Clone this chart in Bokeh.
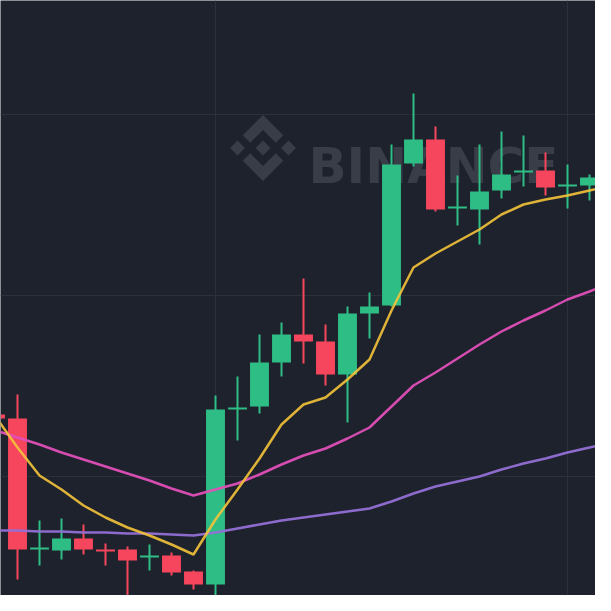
from bokeh.plotting import figure
from bokeh.models import Range1d, FixedTicker, Grid, Label, PolyAnnotation, ColumnDataSource
from bokeh.embed import file_html
from bokeh.resources import INLINE

# ---- data (candle index, OHLC prices, moving averages) ----
idx = list(range(29))
opens  = [103.10, 102.90, 96.35, 96.30, 96.90, 96.35, 96.35, 95.95, 96.05, 95.25,
          94.60, 103.35, 103.50, 105.70, 107.10, 106.75, 105.10, 108.15, 108.55, 115.65,
          116.85, 113.40, 113.35, 114.30, 115.20, 115.30, 114.50, 114.55, 115.00]
highs  = [104.10, 104.10, 97.80, 97.90, 97.60, 96.65, 96.50, 96.60, 96.20, 95.30,
          104.05, 105.00, 107.10, 107.70, 109.90, 107.60, 108.50, 109.20, 116.60, 119.15,
          117.50, 115.05, 116.60, 117.25, 117.05, 116.20, 115.60, 115.10, 115.80]
lows   = [101.85, 94.85, 95.55, 95.85, 96.10, 95.55, 93.50, 95.30, 95.05, 94.35,
          93.70, 101.80, 103.15, 105.00, 105.65, 104.55, 102.70, 106.90, 108.50, 115.50,
          113.25, 112.55, 111.60, 113.90, 114.50, 114.05, 113.40, 113.80, 114.40]
closes = [102.90, 96.35, 96.45, 96.90, 96.35, 96.25, 95.80, 96.05, 95.20, 94.60,
          103.35, 103.45, 105.70, 107.10, 106.75, 105.10, 108.15, 108.50, 115.60, 116.85,
          113.35, 113.50, 114.25, 115.10, 115.30, 114.45, 114.60, 114.95, 115.40]

ma7  = [103.00, 101.45, 100.05, 99.35, 98.55, 97.95, 97.45, 97.05, 96.60, 96.10,
        97.85, 99.35, 100.90, 102.60, 103.60, 103.95, 104.85, 105.85, 108.30, 110.45,
        111.15, 111.75, 112.35, 113.10, 113.60, 113.85, 114.05, 114.30, 114.55]
ma25 = [102.30, 101.95, 101.60, 101.20, 100.85, 100.50, 100.15, 99.80, 99.40, 99.05,
        99.35, 99.65, 100.10, 100.60, 101.05, 101.40, 101.90, 102.45, 103.50, 104.55,
        105.20, 105.90, 106.60, 107.25, 107.80, 108.30, 108.85, 109.25, 109.70]
ma99 = [97.30, 97.30, 97.25, 97.25, 97.20, 97.20, 97.15, 97.15, 97.10, 97.05,
        97.20, 97.40, 97.60, 97.80, 97.95, 98.10, 98.25, 98.40, 98.75, 99.15,
        99.50, 99.75, 100.00, 100.35, 100.65, 100.90, 101.20, 101.45, 101.70]

price_grid = [100.0, 109.05, 118.1]
time_grid = [10, 26]

# ---- styles ----
BG = "#1e222d"
GRID = "#2b303b"
UP = "#2ebd85"
DOWN = "#f6465d"
WM = "#383d48"

colors = [UP if c >= o else DOWN for o, c in zip(opens, closes)]
src = ColumnDataSource(dict(
    x=idx, open=opens, high=highs, low=lows, close=closes,
    top=[max(o, c) for o, c in zip(opens, closes)],
    bottom=[min(o, c) for o, c in zip(opens, closes)],
    color=colors,
))

p = figure(width=595, height=595, output_backend="svg", toolbar_location=None,
           x_axis_location=None, y_axis_location=None,
           x_range=Range1d(0.2273, 27.2727), y_range=Range1d(94.05, 123.8),
           background_fill_color=BG, border_fill_color=BG, min_border=0,
           outline_line_color=None)
p.grid.visible = False
p.add_layout(Grid(dimension=0, ticker=FixedTicker(ticks=time_grid),
                  grid_line_color=GRID, grid_line_width=1))
p.add_layout(Grid(dimension=1, ticker=FixedTicker(ticks=price_grid),
                  grid_line_color=GRID, grid_line_width=1))

# ---- watermark (logo + text) ----
logo_polys = [
    [(38.73, 53.2), (63.32, 28.62), (87.92, 53.22), (102.22, 38.91), (63.32, 0), (24.43, 38.9)],
    [(0, 63.31), (14.3, 49.0), (28.61, 63.31), (14.3, 77.61)],
    [(38.73, 73.41), (63.32, 98.0), (87.92, 73.4), (102.23, 87.69), (63.33, 126.6), (24.42, 87.72)],
    [(98, 63.31), (112.3, 49.0), (126.61, 63.3), (112.3, 77.62)],
    [(77.83, 63.3), (63.32, 48.78), (48.81, 63.28), (63.32, 77.78)],
]
s = 0.52
cx, cy = 262.5, 447.5
for poly in logo_polys:
    xs = [cx + (ux - 63.3) * s for ux, uy in poly]
    ys = [cy - (uy - 63.3) * s for ux, uy in poly]
    p.add_layout(PolyAnnotation(xs=xs, ys=ys, xs_units="screen", ys_units="screen",
                                fill_color=WM, fill_alpha=1.0, line_color=None,
                                level="underlay"))
p.add_layout(Label(x=308, y=430, x_units="screen", y_units="screen", text="BINANCE",
                   text_font="DejaVu Sans", text_font_style="bold", text_font_size="50px",
                   text_color=WM, text_baseline="alphabetic", level="underlay"))

# ---- candles ----
p.segment(x0="x", y0="high", x1="x", y1="low", source=src, line_color="color", line_width=2)
p.vbar(x="x", width=0.86, top="top", bottom="bottom", source=src,
       fill_color="color", line_color="color", line_width=0)

# ---- moving averages ----
p.line(idx, ma99, line_color="#9270d6", line_width=2.5, line_alpha=0.95)
p.line(idx, ma25, line_color="#e04fb8", line_width=2.5, line_alpha=0.95)
p.line(idx, ma7, line_color="#f3c33a", line_width=2.5, line_alpha=0.9)

open("out.html", "w").write(file_html(p, INLINE))
